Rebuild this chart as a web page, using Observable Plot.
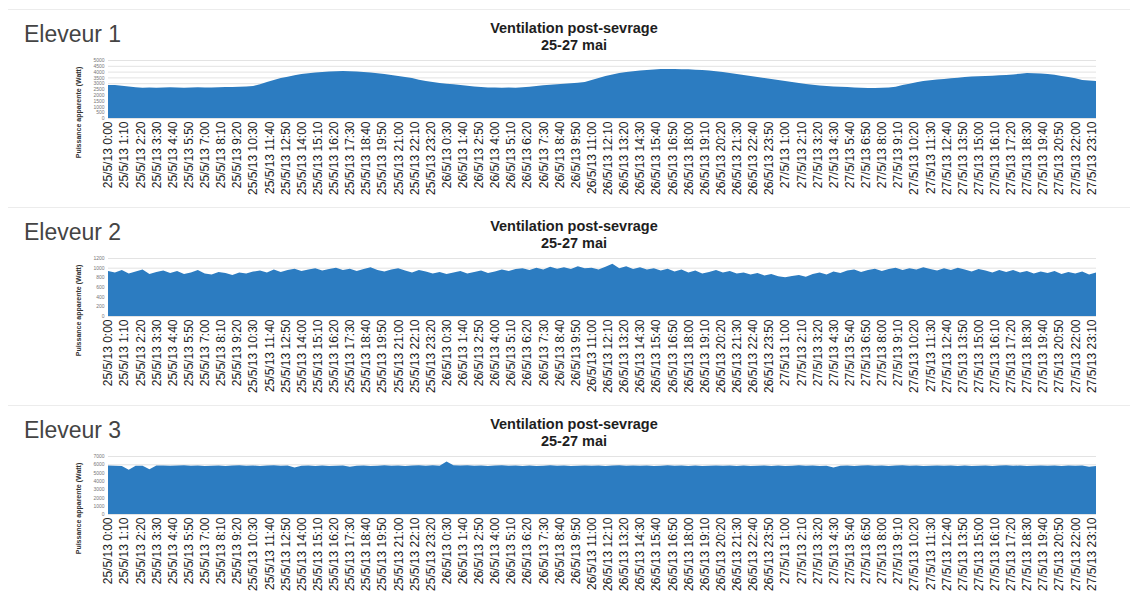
<!DOCTYPE html>
<html><head><meta charset="utf-8">
<script src="https://cdn.jsdelivr.net/npm/d3@7"></script>
<script src="https://cdn.jsdelivr.net/npm/@observablehq/plot@0.6"></script>
<style>
body{margin:0;background:#fff;width:1130px;height:597px;overflow:hidden;font-family:"Liberation Sans",Arial,sans-serif;position:relative;}
.panel{position:absolute;left:0;width:1130px;height:198px;}
.rule{position:absolute;left:8px;right:0;top:9px;height:0;border-top:1px solid #ececec;}
.elev{position:absolute;left:24px;top:23px;font-size:23px;color:#444;line-height:1;}
.title{position:absolute;left:454px;width:240px;text-align:center;top:20px;font-weight:bold;font-size:14.5px;line-height:17px;color:#1e1e1e;}
.chart{position:absolute;left:0;top:55px;}
.chart svg{overflow:visible;}
.chart svg g[aria-label="x-axis tick label"]{font-size:12px;fill:#222;font-family:"Liberation Sans",Arial,sans-serif;}
.chart svg g[aria-label="y-axis tick label"]{font-size:5px;fill:#777;font-family:"Liberation Sans",Arial,sans-serif;}
</style>
</head><body>
<script>
// x tick labels (every 70 minutes)
const tickLabels = [
 "25/5/13 0:00","25/5/13 1:10","25/5/13 2:20","25/5/13 3:30","25/5/13 4:40","25/5/13 5:50","25/5/13 7:00",
 "25/5/13 8:10","25/5/13 9:20","25/5/13 10:30","25/5/13 11:40","25/5/13 12:50","25/5/13 14:00","25/5/13 15:10",
 "25/5/13 16:20","25/5/13 17:30","25/5/13 18:40","25/5/13 19:50","25/5/13 21:00","25/5/13 22:10","25/5/13 23:20",
 "26/5/13 0:30","26/5/13 1:40","26/5/13 2:50","26/5/13 4:00","26/5/13 5:10","26/5/13 6:20","26/5/13 7:30",
 "26/5/13 8:40","26/5/13 9:50","26/5/13 11:00","26/5/13 12:10","26/5/13 13:20","26/5/13 14:30","26/5/13 15:40",
 "26/5/13 16:50","26/5/13 18:00","26/5/13 19:10","26/5/13 20:20","26/5/13 21:30","26/5/13 22:40","26/5/13 23:50",
 "27/5/13 1:00","27/5/13 2:10","27/5/13 3:20","27/5/13 4:30","27/5/13 5:40","27/5/13 6:50","27/5/13 8:00",
 "27/5/13 9:10","27/5/13 10:20","27/5/13 11:30","27/5/13 12:40","27/5/13 13:50","27/5/13 15:00","27/5/13 16:10",
 "27/5/13 17:20","27/5/13 18:30","27/5/13 19:40","27/5/13 20:50","27/5/13 22:00","27/5/13 23:10"
];
const tickStepMin = 70;
const sampleStepMin = 30;

// Apparent power (W), one value every 30 min from 25/5/13 0:00
const eleveur1 = [
 2850,2840,2790,2720,2650,2610,2630,2600,2620,2650,
 2630,2610,2640,2660,2640,2620,2650,2680,2670,2700,
 2720,2760,2900,3100,3280,3450,3560,3680,3790,3860,
 3920,3970,4010,4030,4050,4040,4010,3970,3920,3860,
 3790,3700,3620,3530,3440,3300,3200,3110,3020,2960,
 2900,2850,2780,2720,2670,2640,2620,2600,2630,2610,
 2650,2700,2760,2820,2860,2900,2950,2990,3040,3100,
 3280,3450,3620,3760,3880,3970,4040,4090,4140,4180,
 4220,4230,4220,4210,4200,4170,4140,4090,4030,3970,
 3890,3800,3710,3620,3530,3450,3360,3280,3190,3100,
 3010,2930,2870,2810,2760,2720,2690,2670,2640,2610,
 2590,2580,2600,2620,2700,2850,2960,3080,3190,3260,
 3320,3360,3420,3480,3530,3570,3600,3620,3650,3680,
 3710,3760,3820,3880,3860,3830,3790,3720,3630,3530,
 3420,3280,3230,3190
];
const eleveur2 = [
 930,900,950,880,920,960,870,910,940,890,
 930,870,900,950,880,860,910,890,850,900,
 880,920,940,900,960,910,950,980,930,960,
 990,940,970,1000,950,980,930,970,1010,950,
 920,960,990,940,900,950,920,880,910,870,
 900,930,880,910,940,890,920,960,930,970,
 990,950,1000,960,1020,980,1010,970,1030,990,
 1000,960,1020,1080,990,1030,970,1010,960,990,
 940,980,920,960,900,940,880,910,950,900,
 930,880,900,860,890,840,870,820,800,830,
 850,810,870,900,860,920,890,940,960,910,
 950,980,930,970,1000,950,990,960,1010,970,
 940,990,950,1000,960,920,970,940,900,950,
 910,950,900,930,880,920,890,930,870,910,
 880,920,860,900
];
const eleveur3 = [
 5850,5820,5800,5350,5830,5820,5400,5840,5860,5810,
 5840,5870,5810,5850,5790,5830,5860,5800,5840,5880,
 5820,5850,5790,5840,5870,5810,5850,5600,5830,5860,
 5800,5840,5780,5820,5860,5700,5810,5840,5790,5830,
 5870,5820,5860,5800,5840,5880,5830,5870,5810,6350,
 5890,5840,5880,5820,5860,5800,5840,5880,5820,5860,
 5800,5840,5790,5830,5870,5810,5850,5790,5830,5860,
 5820,5850,5800,5840,5880,5830,5860,5810,5850,5790,
 5830,5870,5820,5850,5800,5840,5780,5820,5860,5810,
 5850,5800,5840,5780,5820,5860,5800,5840,5790,5830,
 5870,5820,5850,5790,5830,5600,5810,5850,5800,5840,
 5880,5830,5860,5800,5840,5870,5820,5850,5790,5830,
 5860,5810,5850,5800,5840,5780,5820,5860,5800,5840,
 5870,5820,5850,5790,5830,5860,5810,5850,5800,5840,
 5820,5860,5700,5800
];
const yTicks1 = [0,500,1000,1500,2000,2500,3000,3500,4000,4500,5000];
const yTicks2 = [0,200,400,600,800,1000,1200];
const yTicks3 = [0,1000,2000,3000,4000,5000,6000,7000];
const breeders = ["Eleveur 1","Eleveur 2","Eleveur 3"];
const titleLine1 = "Ventilation post-sevrage";
const titleLine2 = "25-27 mai";
const yLabel = "Puissance apparente (Watt)";

const series = [eleveur1, eleveur2, eleveur3];
const yTickSets = [yTicks1, yTicks2, yTicks3];
const tickPositions = tickLabels.map((_, k) => k * tickStepMin);

series.forEach((values, p) => {
  const panel = document.createElement("div");
  panel.className = "panel";
  panel.style.top = (p * 198) + "px";
  panel.innerHTML = `<div class="rule"></div><div class="elev">${breeders[p]}</div>
    <div class="title">${titleLine1}<br>${titleLine2}</div>`;
  const data = values.map((v, i) => ({t: i * sampleStepMin, v}));
  const yt = yTickSets[p];
  const chart = Plot.plot({
    width: 1130, height: 150,
    marginTop: 5, marginBottom: 87, marginLeft: 108, marginRight: 34,
    x: {type: "linear", domain: [0, (values.length - 1) * sampleStepMin]},
    y: {domain: [0, yt[yt.length - 1]]},
    marks: [
      Plot.gridY(yt, {stroke: "#e3e3e3", strokeOpacity: 1}),
      Plot.areaY(data, {x: "t", y: "v", fill: "#2c7cc1"}),
      Plot.axisX(tickPositions, {tickRotate: -90, tickSize: 0, tickPadding: 3,
        tickFormat: d => tickLabels[Math.round(d / tickStepMin)], label: null}),
      Plot.axisY(yt, {tickSize: 0, tickPadding: 4, label: null, tickFormat: d => String(d)}),
      Plot.text([yLabel], {frameAnchor: "left", textAnchor: "middle", dx: -30, dy: 23, rotate: -90,
        fontSize: 7, fontWeight: "bold", fill: "#333", fontFamily: "Liberation Sans, Arial, sans-serif"})
    ]
  });
  const wrap = document.createElement("div");
  wrap.className = "chart";
  wrap.appendChild(chart);
  panel.appendChild(wrap);
  document.body.appendChild(panel);
});
</script>
</body></html>
